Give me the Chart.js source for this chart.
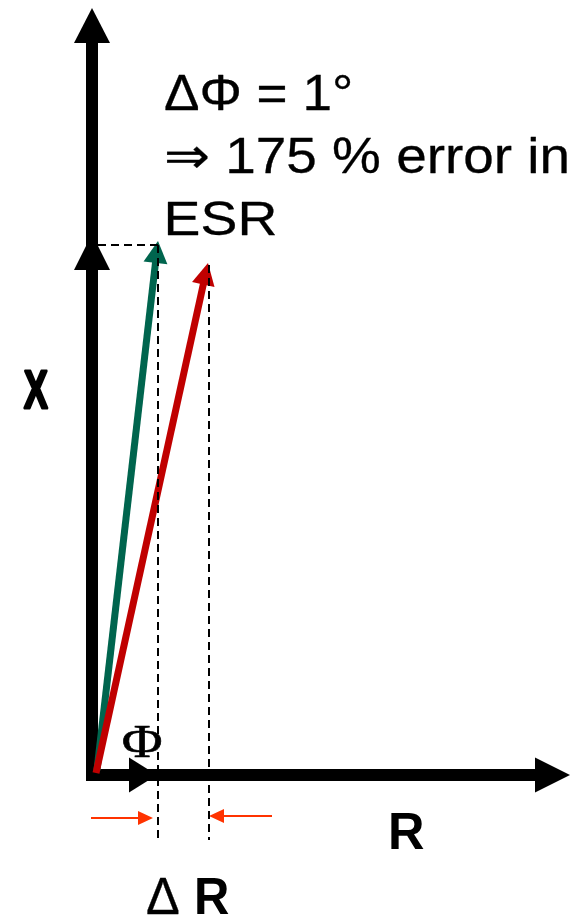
<!DOCTYPE html>
<html>
<head>
<meta charset="utf-8">
<title>Phase error vs ESR</title>
<script src="https://cdn.jsdelivr.net/npm/chart.js@4/dist/chart.umd.min.js"></script>
<style>
  html, body { margin: 0; padding: 0; background: #fff; }
  #wrap { width: 578px; height: 916px; }
</style>
</head>
<body>
<div id="wrap"><canvas id="c" width="578" height="916"></canvas></div>
<script>
// vector diagram, plane units = px of the original sketch (y grows down)
// each segment is [tail, tip]
var xAxis   = [[92, 781], [92, 8]];
var rAxis   = [[86, 775], [570, 775]];
var xIdeal  = [[92, 775], [92, 234]];
var rIdeal  = [[92, 775], [157, 775]];
var vecTrue = [[97, 770], [158, 241]];
var vecMeas = [[96, 773], [208, 263]];
var guideTop = [[98, 245], [158, 245]];
var guideA   = [[158, 245], [158, 840]];
var guideB   = [[209, 265], [209, 840]];
var markLeft  = [[91, 818], [153, 818]];
var markRight = [[272, 816], [209, 816]];

var noteLines = ['ΔΦ = 1°', '⇒ 175 % error in', 'ESR'];
var axisNames = ['X', 'R'];
var angleName = 'Φ';
var deltaName = ['Δ', 'R'];

var GREEN = '#00654e', RED = '#c00000', ORANGE = '#ff3300';

function pt(p) { return { x: p[0], y: p[1] }; }

// shaft stops at the head base so the thick line does not poke out
function arrow(seg, color, width, len, half) {
  var t = seg[0], h = seg[1];
  var dx = h[0] - t[0], dy = h[1] - t[1];
  var d = Math.sqrt(dx * dx + dy * dy);
  var k = (len - 1) / d;
  return {
    data: [pt(t), { x: h[0] - dx * k, y: h[1] - dy * k }],
    borderColor: color,
    backgroundColor: color,
    borderWidth: width,
    head: { tip: h, tail: t, len: len, half: half }
  };
}

function dashed(seg) {
  return {
    data: [pt(seg[0]), pt(seg[1])],
    borderColor: '#000',
    borderWidth: 2,
    borderDash: [8, 5]
  };
}

// first dataset is painted last (on top)
var datasets = [
  dashed(guideTop),
  dashed(guideA),
  dashed(guideB),
  arrow(markLeft, ORANGE, 2, 15, 7),
  arrow(markRight, ORANGE, 2, 15, 7),
  arrow(vecMeas, RED, 7, 22, 11.5),
  arrow(vecTrue, GREEN, 7, 22, 12),
  arrow(rIdeal, '#000', 12, 28, 17.5),
  arrow(xIdeal, '#000', 12, 36, 18),
  arrow(rAxis, '#000', 12, 35, 17.5),
  arrow(xAxis, '#000', 12, 35, 18)
];
datasets.forEach(function (ds) {
  ds.showLine = true;
  ds.pointRadius = 0;
  ds.pointHoverRadius = 0;
  ds.clip = false;
  ds.tension = 0;
  ds.fill = false;
  ds.borderCapStyle = 'butt';
  ds.borderJoinStyle = 'miter';
});

var arrowHeads = {
  id: 'arrowHeads',
  afterDatasetDraw: function (chart, args) {
    var ds = chart.data.datasets[args.index];
    if (!ds.head) return;
    var sx = chart.scales.x, sy = chart.scales.y, ctx = chart.ctx;
    var tx = sx.getPixelForValue(ds.head.tip[0]), ty = sy.getPixelForValue(ds.head.tip[1]);
    var ax = sx.getPixelForValue(ds.head.tail[0]), ay = sy.getPixelForValue(ds.head.tail[1]);
    var dx = tx - ax, dy = ty - ay, d = Math.sqrt(dx * dx + dy * dy);
    var ux = dx / d, uy = dy / d;
    var bx = tx - ux * ds.head.len, by = ty - uy * ds.head.len;
    var h = ds.head.half;
    ctx.save();
    ctx.fillStyle = ds.borderColor;
    ctx.beginPath();
    ctx.moveTo(tx, ty);
    ctx.lineTo(bx - uy * h, by + ux * h);
    ctx.lineTo(bx + uy * h, by - ux * h);
    ctx.closePath();
    ctx.fill();
    ctx.restore();
  }
};

// text fitted to the ink box seen in the sketch: left, baseline, right (and top if given)
function fitText(chart, str, font, left, base, right, top, weight) {
  var sx = chart.scales.x, sy = chart.scales.y, ctx = chart.ctx;
  var l = sx.getPixelForValue(left), r = sx.getPixelForValue(right), b = sy.getPixelForValue(base);
  ctx.save();
  ctx.font = font;
  ctx.fillStyle = '#000';
  ctx.strokeStyle = '#000';
  ctx.lineJoin = 'round';
  ctx.textBaseline = 'alphabetic';
  ctx.textAlign = 'left';
  var m = ctx.measureText(str);
  var w = m.actualBoundingBoxLeft + m.actualBoundingBoxRight;
  var kx = (r - l) / w, ky = 1;
  if (top !== undefined) ky = (b - sy.getPixelForValue(top)) / m.actualBoundingBoxAscent;
  ctx.translate(l, b);
  ctx.scale(kx, ky);
  ctx.fillText(str, m.actualBoundingBoxLeft, 0);
  if (weight) {
    ctx.lineWidth = weight;
    ctx.strokeText(str, m.actualBoundingBoxLeft, 0);
  }
  ctx.restore();
}

var labels = {
  id: 'labels',
  afterDraw: function (chart) {
    var sans = '"Liberation Sans", Arial, sans-serif';
    fitText(chart, noteLines[0], '50px ' + sans, 165, 110, 350, undefined, 0.3);
    fitText(chart, noteLines[1], '50px ' + sans, 166, 173, 567, undefined, 0.3);
    fitText(chart, noteLines[2], '50px ' + sans, 168, 235, 275, 200, 0.3);
    fitText(chart, axisNames[0], 'bold 40px ' + sans, 24, 408, 48, 371, 2.2);
    fitText(chart, axisNames[1], 'bold 49px ' + sans, 391, 849, 424, 814);
    fitText(chart, angleName, '47px "Liberation Serif", "Times New Roman", serif', 123, 757, 161, 726, 0.6);
    fitText(chart, deltaName[0], '49px ' + sans, 147, 914, 179, 879, 0.3);
    fitText(chart, deltaName[1], 'bold 49px ' + sans, 197, 914, 229, 879);
  }
};

new Chart(document.getElementById('c'), {
  type: 'scatter',
  data: { datasets: datasets },
  options: {
    responsive: false,
    animation: false,
    devicePixelRatio: 1,
    layout: { padding: 0 },
    events: [],
    plugins: { legend: { display: false }, tooltip: { enabled: false } },
    scales: {
      x: { type: 'linear', min: 0, max: 578, display: false },
      y: { type: 'linear', min: 0, max: 916, reverse: true, display: false }
    }
  },
  plugins: [arrowHeads, labels]
});
</script>
</body>
</html>
